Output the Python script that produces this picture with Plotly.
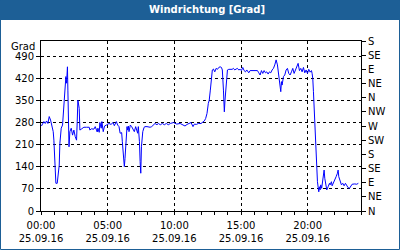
import plotly.graph_objects as go

times = ["00:02","00:07","00:13","00:19","00:25","00:31","00:37","00:43","00:49","00:55","00:58",
"01:01","01:07","01:13","01:19","01:22","01:25","01:31","01:37","01:43","01:49","01:52","01:55","01:59",
"02:01","02:06","02:10","02:16","02:22","02:28","02:34","02:40","02:43","02:46","02:52","02:55",
"03:01","03:13","03:25","03:37","03:40","03:46","03:58","04:04","04:13","04:16","04:22","04:25","04:31","04:34","04:40","04:46","04:54",
"05:06","05:15","05:24","05:30","05:39","05:45","05:51","05:56","06:03","06:06","06:12","06:15","06:18","06:21","06:24","06:27","06:30","06:33","06:36","06:42","06:48","06:54",
"07:00","07:06","07:12","07:15","07:18","07:23","07:26","07:29","07:32","07:35","07:38","07:44","07:48","07:57",
"08:11","08:18","08:27","08:33","08:42","08:48","08:57","09:06","09:15","09:24","09:33","09:42","09:56",
"10:11","10:26","10:36","10:48","10:57","11:06","11:15","11:24","11:30","11:39","11:48",
"12:00","12:09","12:15","12:21","12:27","12:33","12:37","12:42","12:47","12:51","12:56",
"13:02","13:08","13:14","13:20","13:26","13:32","13:36","13:41","13:45","13:48","13:53","13:56","13:59",
"14:05","14:11","14:20","14:26","14:32","14:38","14:44","14:50","14:56",
"15:02","15:08","15:14","15:20","15:26","15:35","15:41","15:50","15:59",
"16:08","16:14","16:20","16:26","16:32","16:38","16:44","16:50","16:56",
"17:02","17:08","17:14","17:20","17:26","17:32","17:38","17:44","17:50","17:56","17:59",
"18:02","18:05","18:11","18:17","18:23","18:29","18:35","18:41","18:47","18:53","18:59",
"19:05","19:11","19:17","19:23","19:29","19:35","19:41","19:47","19:53","19:59",
"20:05","20:11","20:17","20:20","20:23","20:26","20:29","20:32","20:35","20:38","20:41","20:44","20:50","20:53","20:56","20:59",
"21:03","21:08","21:11","21:14","21:17","21:20","21:23","21:26","21:32","21:38","21:41","21:47","21:50","21:56",
"22:02","22:08","22:14","22:17","22:20","22:26","22:32","22:38","22:44","22:50","22:56",
"23:02","23:08","23:14","23:20","23:32","23:41","23:48"]

values = [270,276,284,278,286,278,300,289,268,252,225,
167,88,88,136,146,215,263,273,326,384,427,406,458,
384,204,252,263,241,257,236,225,284,352,326,257,
260,266,266,266,257,261,260,268,251,263,250,281,263,284,252,270,273,
278,275,281,271,284,273,268,247,249,220,157,141,167,210,247,268,257,270,252,273,268,260,
252,268,257,247,268,220,157,120,204,241,252,266,268,268,
266,268,274,278,274,278,274,278,274,278,274,278,281,
276,278,274,270,275,278,281,268,276,275,278,
278,282,286,294,310,342,352,384,427,448,451,
442,453,450,456,458,456,448,384,315,352,406,427,448,
450,450,450,453,448,451,453,448,450,
446,456,446,442,448,439,446,446,448,
446,446,439,432,446,437,446,439,442,
435,442,439,448,453,464,480,464,432,406,379,
411,400,427,432,448,453,437,432,442,453,437,
448,453,469,446,453,442,456,439,448,437,
450,441,446,437,421,379,326,252,199,157,130,93,61,77,67,83,
72,98,114,130,104,93,77,67,77,88,83,93,80,88,
98,109,120,130,109,93,83,88,80,88,80,
74,72,80,85,86,85,88]

date = "2016-09-25"
x_tick_times = ["00:00", "05:00", "10:00", "15:00", "20:00"]
x_tick_date = "25.09.16"
left_ticks = [0, 70, 140, 210, 280, 350, 420, 490]
right_tickvals = [0, 45, 90, 135, 180, 225, 270, 315, 360, 405, 450, 495, 540]
right_ticktext = ["N", "NE", "E", "SE", "S", "SW", "W", "NW", "N", "NE", "E", "SE", "S"]
title_text = "Windrichtung [Grad]"
unit_text = "Grad"

xs = [f"{date} {t}" for t in times]

W, H = 400, 250
L, R, T, B = 41, 39, 41, 39
pw, ph = W - L - R, H - T - B

def px(xp):
    return (xp - L) / pw

def py(yp):
    return (H - B - yp) / ph

FONT = "DejaVu Sans"
BLUE = "#1d5f96"

fig = go.Figure()
fig.add_trace(go.Scatter(x=xs, y=values, mode="lines",
                         line=dict(color="#0000ff", width=1),
                         hoverinfo="skip", showlegend=False))
fig.add_trace(go.Scatter(x=[None], y=[None], yaxis="y2", mode="lines",
                         hoverinfo="skip", showlegend=False))

fig.update_layout(
    width=W, height=H,
    margin=dict(l=L, r=R, t=T, b=B, pad=0),
    paper_bgcolor="white", plot_bgcolor="white",
    font=dict(family=FONT, size=10, color="black"),
    showlegend=False,
    xaxis=dict(
        type="date", automargin=False,
        range=[f"{date} 00:00", "2016-09-26 00:00"],
        tickvals=[f"{date} {t}" for t in x_tick_times],
        ticktext=[f"{t}<br>{x_tick_date}" for t in x_tick_times],
        ticks="outside", ticklen=3, tickcolor="black", tickwidth=1,
        ticklabelstandoff=2,
        minor=dict(dtick=3600000, ticks="outside", ticklen=3, tickcolor="black", showgrid=False),
        showgrid=True, gridcolor="black", griddash="3px,3px", gridwidth=1,
        showline=True, linecolor="black", linewidth=1, mirror=True,
        zeroline=False, tickangle=0, fixedrange=True,
        tickfont=dict(family=FONT, size=10, color="black"),
    ),
    yaxis=dict(
        range=[0, 540], automargin=False,
        tickvals=left_ticks,
        ticks="outside", ticklen=4, tickcolor="black",
        showgrid=True, gridcolor="black", griddash="3px,3px", gridwidth=1,
        showline=True, linecolor="black", linewidth=1, mirror=True,
        zeroline=False, fixedrange=True,
        tickfont=dict(family=FONT, size=10, color="black"),
    ),
    yaxis2=dict(
        range=[0, 540], overlaying="y", side="right", automargin=False,
        tickvals=right_tickvals, ticktext=right_ticktext,
        ticks="outside", ticklen=4, tickcolor="black",
        showgrid=False, zeroline=False, showline=False, fixedrange=True,
        tickfont=dict(family=FONT, size=10, color="black"),
    ),
)

# title bar
fig.add_shape(type="rect", xref="paper", yref="paper",
              x0=px(0), x1=px(W), y0=py(20), y1=py(0),
              fillcolor=BLUE, line=dict(width=0), layer="above")
# outer frame
fig.add_shape(type="rect", xref="paper", yref="paper",
              x0=px(0.5), x1=px(W - 0.5), y0=py(H - 0.5), y1=py(0.5),
              fillcolor="rgba(0,0,0,0)", line=dict(color=BLUE, width=1), layer="above")

fig.add_annotation(text=f"<b>{title_text}</b>", xref="paper", yref="paper",
                   x=px(207), y=py(10), xanchor="center", yanchor="middle",
                   showarrow=False, font=dict(family=FONT, size=10, color="white"))
fig.add_annotation(text=unit_text, xref="paper", yref="paper",
                   x=px(37), y=py(46), xanchor="right", yanchor="middle",
                   showarrow=False, font=dict(family=FONT, size=10, color="black"))

fig.write_html("out.html")
